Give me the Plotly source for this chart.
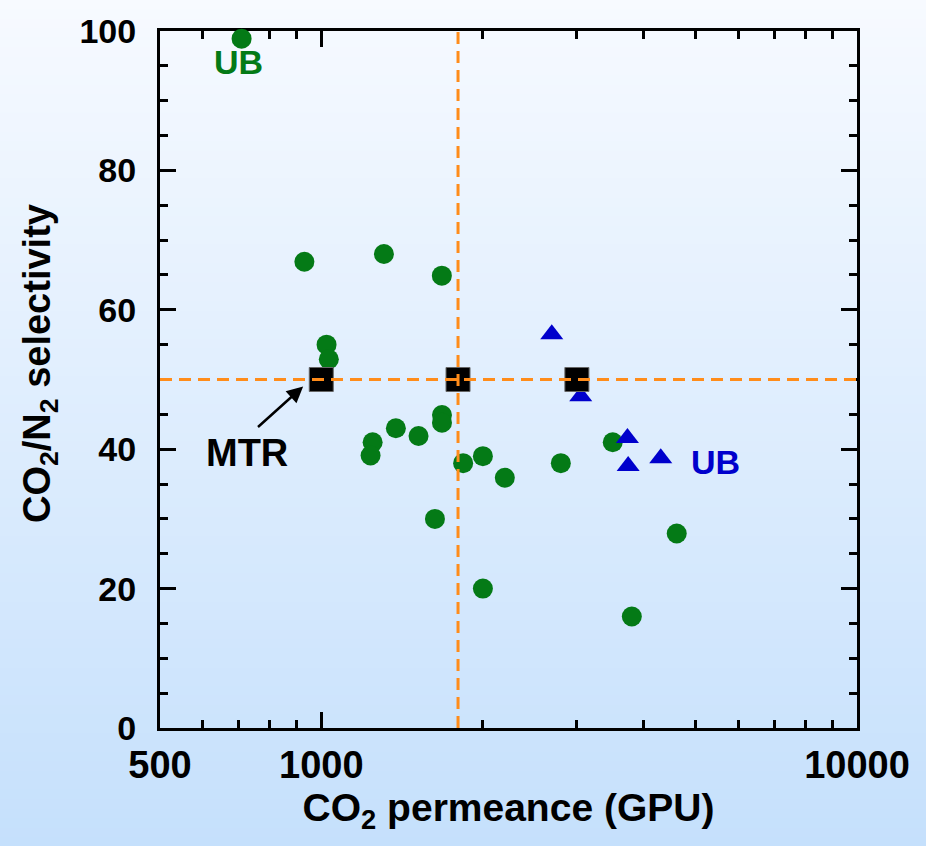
import math
import plotly.graph_objects as go

# ---------------- data ----------------
green_x = [710, 930, 1309, 1679, 1023, 1033, 1247, 1236, 1378, 1519, 1680, 1680,
           1840, 1630, 2003, 2003, 2201, 2800, 3500, 3799, 4608]
green_y = [98.9, 66.9, 68.0, 64.9, 55.0, 52.9, 41.0, 39.1, 43.0, 41.9, 44.9, 43.8,
           38.0, 30.0, 39.0, 20.0, 35.9, 38.0, 41.0, 16.0, 27.9]

blue_x = [2693, 3050, 3728, 3740, 4302]
blue_y = [56.5, 47.6, 41.6, 37.6, 38.7]

mtr_x = [1000, 1800, 3000]
mtr_y = [50, 50, 50]

ref_perm = 1800        # vertical reference line (GPU)
ref_sel = 50           # horizontal reference line (selectivity)

x_range = [500, 10000]
y_range = [0, 100]
x_tickvals = [500, 1000, 10000]
x_ticktext = ["500", "1000", "10000"]
x_minor = [600, 700, 800, 900, 2000, 3000, 4000, 5000, 6000, 7000, 8000, 9000]
y_tickvals = [0, 20, 40, 60, 80, 100]

GREEN = "#047a16"
BLUE = "#0000cc"
ORANGE = "#ff8c1a"
FONT = "Liberation Sans, Arial, sans-serif"

W, H = 926, 846
ML, MR, MT, MB = 160, 69, 31, 118
PW, PH = W - ML - MR, H - MT - MB

fig = go.Figure()

fig.add_trace(go.Scatter(
    x=green_x, y=green_y, mode="markers",
    marker=dict(symbol="circle", size=20, color=GREEN, line=dict(width=0)),
    showlegend=False, cliponaxis=False))

fig.add_trace(go.Scatter(
    x=blue_x, y=blue_y, mode="markers",
    marker=dict(symbol="triangle-up", size=20, color=BLUE, line=dict(width=0)),
    showlegend=False))

fig.add_trace(go.Scatter(
    x=mtr_x, y=mtr_y, mode="markers",
    marker=dict(symbol="square", size=24, color="black", line=dict(width=1, color="#666")),
    showlegend=False))

# dashed reference lines (on top of markers)
fig.add_trace(go.Scatter(
    x=[ref_perm, ref_perm], y=y_range, mode="lines",
    line=dict(color=ORANGE, width=3, dash="12px,7px"), showlegend=False))
fig.add_trace(go.Scatter(
    x=x_range, y=[ref_sel, ref_sel], mode="lines",
    line=dict(color=ORANGE, width=3, dash="12px,7px"), showlegend=False))

# ---------------- background gradient ----------------
top_rgb = (247, 250, 255)
bot_rgb = (197, 224, 252)
N = 90
shapes = []
for i in range(N):
    py0 = i * H / N
    py1 = (i + 1) * H / N + 1
    t = (i + 0.5) / N
    c = tuple(round(top_rgb[k] + (bot_rgb[k] - top_rgb[k]) * t) for k in range(3))
    shapes.append(dict(
        type="rect", xref="paper", yref="paper", layer="below",
        x0=-ML / PW - 0.01, x1=1 + MR / PW + 0.01,
        y0=(H - MB - py1) / PH, y1=(H - MB - py0) / PH,
        fillcolor="rgb(%d,%d,%d)" % c, line=dict(width=0)))

annotations = [
    dict(x=math.log10(702), y=95.6, xref="x", yref="y", text="UB", showarrow=False,
         font=dict(family=FONT, size=34, color=GREEN, weight="bold")),
    dict(x=math.log10(5449), y=38.1, xref="x", yref="y", text="UB", showarrow=False,
         font=dict(family=FONT, size=34, color=BLUE, weight="bold")),
    dict(x=math.log10(727), y=39.4, xref="x", yref="y", text="MTR", showarrow=False,
         font=dict(family=FONT, size=38, color="black", weight="bold")),
    dict(x=math.log10(925), y=49.0, xref="x", yref="y",
         ax=math.log10(757), ay=43.0, axref="x", ayref="y",
         text="", showarrow=True, arrowhead=2, arrowsize=1.3, arrowwidth=2.5,
         arrowcolor="black", standoff=0),
    # y-axis title
    dict(x=(40 - ML) / PW, y=(H - MB - 363) / PH, xref="paper", yref="paper",
         text="CO<sub>2</sub>/N<sub>2</sub> selectivity", textangle=-90, showarrow=False,
         xanchor="center", yanchor="middle",
         font=dict(family=FONT, size=38, color="black", weight="bold")),
]

axis_common = dict(
    showline=True, linecolor="black", linewidth=3, mirror="allticks",
    ticks="inside", tickcolor="black", tickwidth=2.5, ticklen=16,
    showgrid=False, zeroline=False, layer="below traces",
)

fig.update_layout(
    width=W, height=H,
    margin=dict(l=ML, r=MR, t=MT, b=MB, autoexpand=False),
    paper_bgcolor="rgb(220,235,253)",
    plot_bgcolor="rgba(0,0,0,0)",
    shapes=shapes,
    annotations=annotations,
    showlegend=False,
    xaxis=dict(
        type="log", range=[math.log10(x_range[0]), math.log10(x_range[1])],
        tickvals=x_tickvals, ticktext=x_ticktext,
        tickfont=dict(family=FONT, size=38, color="black", weight="bold"),
        ticklabelstandoff=1,
        minor=dict(tickvals=x_minor, ticks="inside", ticklen=8, tickwidth=2.5, tickcolor="black"),
        title=dict(text="CO<sub>2</sub> permeance (GPU)", standoff=8,
                   font=dict(family=FONT, size=39, color="black", weight="bold")),
        **axis_common),
    yaxis=dict(
        range=y_range, tickvals=y_tickvals,
        tickfont=dict(family=FONT, size=34, color="black", weight="bold"),
        ticklabelstandoff=14,
        minor=dict(dtick=5, ticks="inside", ticklen=8, tickwidth=2.5, tickcolor="black"),
        **axis_common),
)

fig.write_html(
    "out.html",
    config={"displayModeBar": False},
    post_script="document.body.style.margin='0';document.body.style.overflow='hidden';",
)
